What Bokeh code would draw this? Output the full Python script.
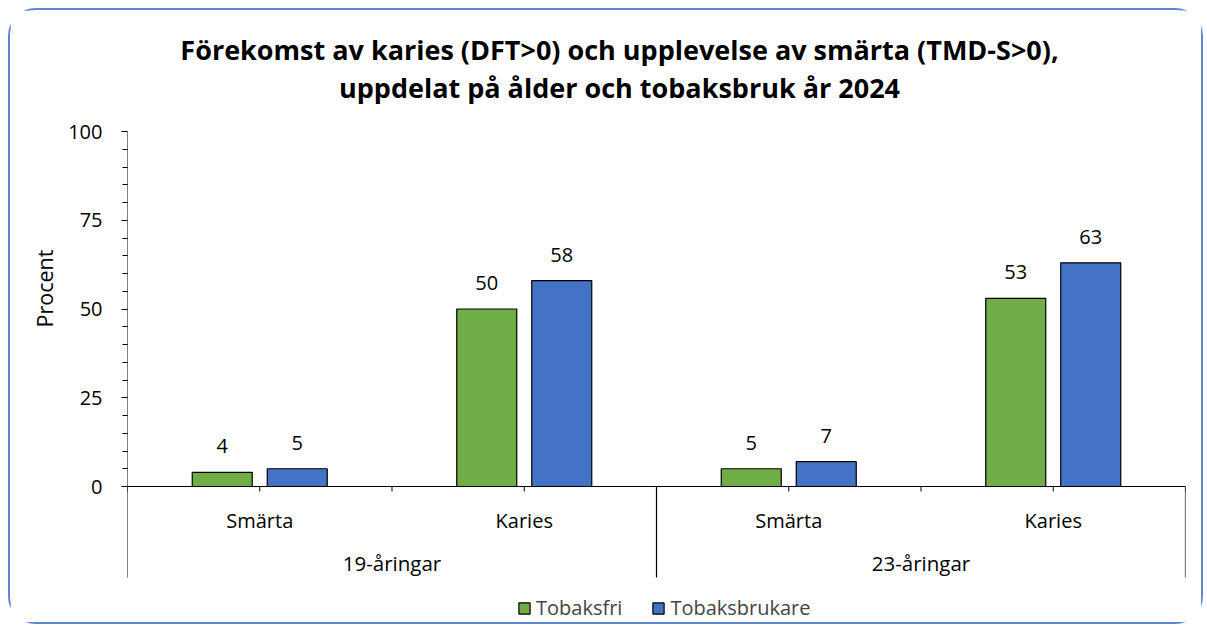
from bokeh.plotting import figure
from bokeh.models import (Range1d, FixedTicker, Label, Legend, LegendItem, ColumnDataSource, Title)
from bokeh.core.properties import value
from bokeh.embed import file_html
from bokeh.resources import INLINE

# ---- data ----
measures = ["Smärta", "Karies", "Smärta", "Karies"]
age_groups = ["19-åringar", "23-åringar"]
tobaksfri = [4, 50, 5, 53]
tobaksbrukare = [5, 58, 7, 63]
series_names = ["Tobaksfri", "Tobaksbrukare"]
title_lines = ["Förekomst av karies (DFT>0) och upplevelse av smärta (TMD-S>0),",
               "uppdelat på ålder och tobaksbruk år 2024"]
y_label = "Procent"

FONT = "Open Sans"
GREEN = "#70AD47"
BLUE = "#4472C4"

# host placed at page (8, 8) with a 2px border -> canvas origin (10, 10)
W, H = 1195, 616
OX, OY = 10, 10
CW, CH = W, H
PXU = 3.55          # pixels per percent
ZERO_Y = 486        # page y of value 0
FRAME_L, FRAME_R = 127, 1185
CAT_W = (FRAME_R - FRAME_L) / 4.0

def dx(px):
    return (px - FRAME_L) / CAT_W

def dy(py):
    return (ZERO_Y - py) / PXU

y_top = dy(OY)
y_bot = dy(OY + CH)

p = figure(width=W, height=H, output_backend="svg", toolbar_location=None,
           x_range=Range1d(0, 4), y_range=Range1d(y_bot, y_top),
           min_border_left=FRAME_L - OX, min_border_right=OX + CW - FRAME_R,
           min_border_top=0, min_border_bottom=0)
p.styles = {"border": "2px solid #5B87D0", "border-radius": "28px",
            "margin-left": "8px", "margin-top": "8px"}
p.outline_line_color = None
p.xgrid.visible = False
p.ygrid.visible = False
p.xaxis.visible = False

ya = p.yaxis[0]
ya.ticker = FixedTicker(ticks=[0, 25, 50, 75, 100],
                        minor_ticks=[v for v in range(5, 100, 5) if v % 25 != 0])
ya.major_tick_out = 6
ya.major_tick_in = 0
ya.minor_tick_out = 5
ya.minor_tick_in = 0
ya.major_label_text_font = FONT
ya.major_label_text_font_size = "20px"
ya.major_label_text_color = "#000000"
ya.major_label_standoff = 19
ya.axis_line_color = None
ya.major_tick_line_color = "#000000"
ya.minor_tick_line_color = "#000000"

# y-axis title placed as a side title, positioned along the frame
ytitle = Title(text=y_label, align="left", offset=(OY + CH) - 327, standoff=13,
               text_font=FONT, text_font_size="21.5px", text_font_style="normal",
               text_color="black")
p.add_layout(ytitle, "left")

n = len(measures)
centers = [i + 0.5 for i in range(n)]
off = 37.5 / CAT_W
bw = 60 / CAT_W
src = ColumnDataSource(dict(
    xg=[c - off for c in centers], xb=[c + off for c in centers],
    g=tobaksfri, b=tobaksbrukare,
    gl=[str(v) for v in tobaksfri], bl=[str(v) for v in tobaksbrukare]))

r1 = p.vbar(x="xg", top="g", width=bw, source=src, fill_color=GREEN, line_color="black", line_width=1.2)
r2 = p.vbar(x="xb", top="b", width=bw, source=src, fill_color=BLUE, line_color="black", line_width=1.2)

for ycol, xcol, tcol in (("g", "xg", "gl"), ("b", "xb", "bl")):
    p.text(x=xcol, y=ycol, text=tcol, source=src, text_align="center",
           text_baseline="middle", y_offset=-26, text_font=value(FONT),
           text_font_size="20px", text_color="black")

# axes drawn by hand
sep_bottom = dy(577)
p.segment(x0=[0], x1=[0], y0=[sep_bottom], y1=[100], line_color="black", line_width=1)
p.segment(x0=[0], x1=[4], y0=[0], y1=[0], line_color="black", line_width=1)
tick_x = [i * 0.5 for i in range(2 * n + 1)]
p.segment(x0=tick_x, x1=tick_x, y0=[0] * len(tick_x), y1=[-5 / PXU] * len(tick_x),
          line_color="black", line_width=1)
sep_x = [2, 4]
p.segment(x0=sep_x, x1=sep_x, y0=[0] * 2, y1=[sep_bottom] * 2, line_color="black", line_width=1.2)

p.text(x=centers, y=[dy(520)] * n, text=measures, text_align="center", text_baseline="middle",
       text_font=value(FONT), text_font_size="20px", text_color="black")
p.text(x=[1, 3], y=[dy(562)] * 2, text=age_groups, text_align="center", text_baseline="middle",
       text_font=value(FONT), text_font_size="20.5px", text_color="black")

for line, py in zip(title_lines, (49, 87)):
    p.add_layout(Label(x=dx(619), y=dy(py), text=line,
                       text_align="center", text_baseline="middle", text_font=FONT,
                       text_font_size="27px", text_font_style="bold", text_color="black"))

legend = Legend(items=[LegendItem(label=series_names[0], renderers=[r1]),
                       LegendItem(label=series_names[1], renderers=[r2])],
                orientation="horizontal", location=(517 - FRAME_L, (OY + CH) - 621),
                border_line_color=None, background_fill_alpha=0,
                label_text_font=FONT, label_text_font_size="20px",
                glyph_width=14, glyph_height=14, label_standoff=5, spacing=29,
                margin=0, padding=0)
p.add_layout(legend, "center")

open("out.html", "w").write(file_html(p, INLINE))
